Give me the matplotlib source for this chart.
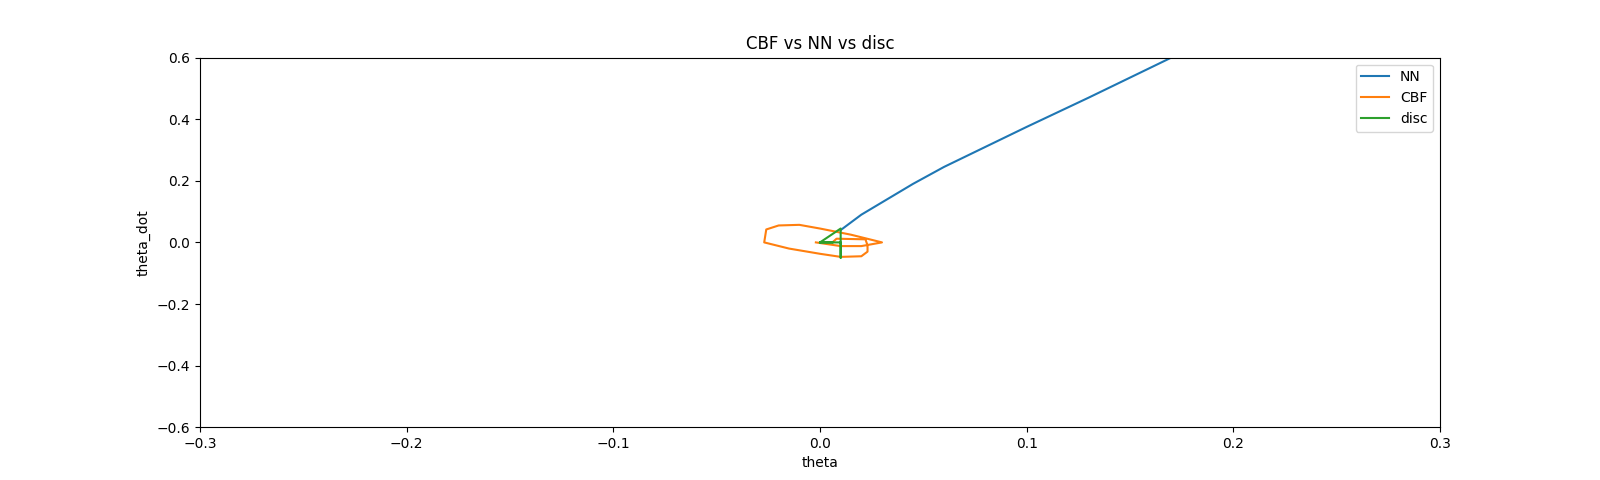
import numpy as np
import matplotlib.pyplot as plt

# trajectories
nn_theta = [0.01, 0.012, 0.02, 0.03, 0.045, 0.06, 0.08, 0.1, 0.13, 0.17, 0.2]
nn_dot = [0.04, 0.05, 0.09, 0.13, 0.19, 0.245, 0.31, 0.375, 0.47, 0.6, 0.69]

cbf_theta = [-0.002, 0.01, 0.02, 0.03, 0.027, 0.015, 0.0, -0.01, -0.02, -0.026,
             -0.027, -0.015, 0.0, 0.01, 0.02, 0.023, 0.023, 0.022, 0.008, 0.006]
cbf_dot = [0.0, -0.012, -0.012, 0.0, 0.005, 0.025, 0.045, 0.057, 0.055, 0.042,
           0.0, -0.02, -0.037, -0.047, -0.045, -0.03, -0.01, 0.01, 0.012, 0.0]

disc_theta = [0.0, 0.01, 0.01, 0.01, 0.0, 0.006]
disc_dot = [0.0, 0.045, -0.05, 0.0, 0.0, 0.0]

plt.figure(figsize=(16, 4.8), dpi=100)
plt.plot(nn_theta, nn_dot, label='NN')
plt.plot(cbf_theta, cbf_dot, label='CBF')
plt.plot(disc_theta, disc_dot, label='disc')
plt.xlim(-0.3, 0.3)
plt.ylim(-0.6, 0.6)
plt.title('CBF vs NN vs disc')
plt.xlabel('theta')
plt.ylabel('theta_dot')
plt.legend()
plt.savefig('out.png')
